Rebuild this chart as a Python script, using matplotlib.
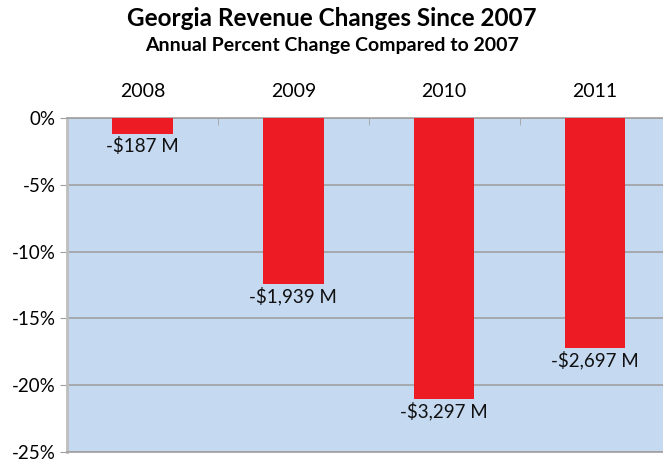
import numpy as np
import matplotlib.pyplot as plt
from matplotlib.ticker import FuncFormatter, FixedLocator

# Georgia revenue change vs 2007
years = ['2008', '2009', '2010', '2011']
pct_change = [-1.2, -12.4, -21.0, -17.2]
dollar_labels = ['-$187 M', '-$1,939 M', '-$3,297 M', '-$2,697 M']

plt.rcParams['font.family'] = ['Lato', 'DejaVu Sans']

fig = plt.figure(figsize=(6.63, 4.63), dpi=100)
ax = fig.add_axes([67 / 663, 11 / 463, 1 - 67 / 663, (452 - 118) / 463])
ax.set_facecolor('#C5D9F1')

x = np.arange(len(years))
bars = ax.bar(x, pct_change, width=0.4, color='#ED1C24', zorder=3)

for b, lab in zip(bars, dollar_labels):
    ax.annotate(lab, (b.get_x() + b.get_width() / 2, b.get_height()),
                xytext=(0, -2), textcoords='offset points',
                ha='center', va='top', fontsize=13.5, color='#111111', zorder=4)

ax.set_ylim(-25, 0)
ax.set_xlim(-0.5, 3.45)
ax.set_yticks(np.arange(-25, 1, 5))
ax.yaxis.set_major_formatter(FuncFormatter(lambda v, p: '%d%%' % v))
ax.yaxis.grid(True, color='#A0A0A0', linewidth=1.2, zorder=1)

ax.xaxis.tick_top()
ax.set_xticks(x)
ax.set_xticklabels(years)
ax.xaxis.set_minor_locator(FixedLocator([0.5, 1.5, 2.5]))
ax.tick_params(axis='x', which='major', length=0, pad=13, labelsize=14)
ax.tick_params(axis='x', which='minor', direction='in', length=5, color='#A0A0A0')
ax.tick_params(axis='y', length=5, color='#A0A0A0', labelsize=13.5, pad=3)

for side in ['left', 'top', 'bottom']:
    ax.spines[side].set_color('#A0A0A0')
    ax.spines[side].set_linewidth(1.2)
ax.spines['left'].set_color('#BEBEBE')
ax.spines['left'].set_linewidth(2)
ax.spines['right'].set_visible(False)

fig.text(0.5, 1 - 19 / 463, 'Georgia Revenue Changes Since 2007', ha='center', va='center',
         fontsize=17.5, fontweight='bold')
fig.text(0.5, 1 - 46 / 463, 'Annual Percent Change Compared to 2007', ha='center', va='center',
         fontsize=14, fontweight='bold')

fig.savefig('out.png', dpi=100)
